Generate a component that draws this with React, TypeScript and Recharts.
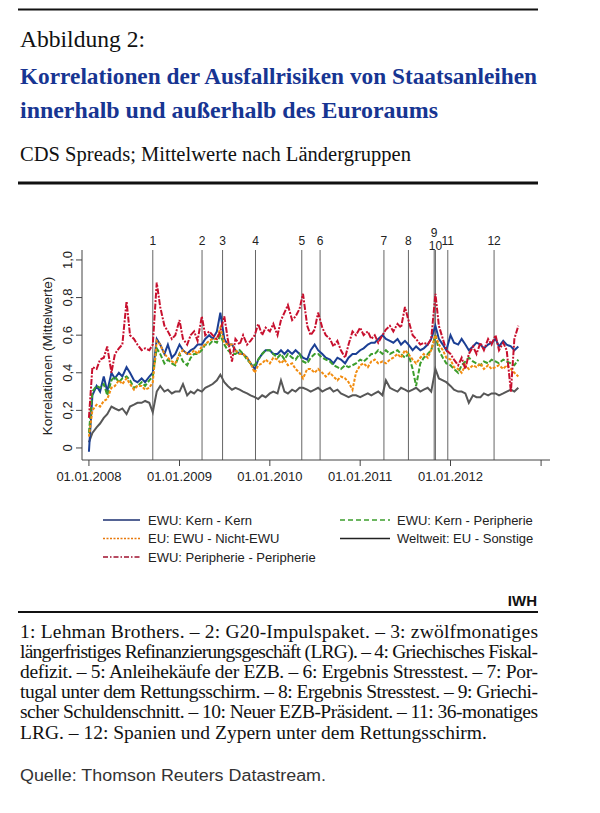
import React from "react";
import { LineChart, Line, XAxis, YAxis, ReferenceLine } from "recharts";

const serif = '"Liberation Serif", "Times New Roman", serif';
const sans = '"Liberation Sans", Arial, sans-serif';

// Beobachtungen: jeweils 1. und 15. des Monats, Jan 2008 – Okt 2012
const N_OBS = 115;
const obsDates: number[] = Array.from({ length: N_OBS }, (_, i) =>
  Date.UTC(2008 + Math.floor(i / 24), Math.floor((i % 24) / 2), i % 2 === 0 ? 1 : 15)
);

// EWU: Kern - Kern
const kernKern = [
  -0.02, 0.28, 0.33, 0.30, 0.38, 0.30, 0.40, 0.37, 0.40, 0.38, 0.43, 0.40, 0.36, 0.35, 0.37, 0.35, 0.38, 0.40, 0.58, 0.55, 0.50, 0.55, 0.48, 0.50,
  0.55, 0.52, 0.50, 0.52, 0.53, 0.55, 0.55, 0.58, 0.60, 0.58, 0.62, 0.72, 0.58, 0.55, 0.55, 0.52, 0.50, 0.50, 0.48, 0.45, 0.42, 0.47, 0.50, 0.52,
  0.52, 0.50, 0.50, 0.52, 0.50, 0.52, 0.50, 0.52, 0.50, 0.48, 0.47, 0.52, 0.55, 0.52, 0.50, 0.48, 0.47, 0.45, 0.48, 0.47, 0.45, 0.48, 0.50, 0.50,
  0.52, 0.53, 0.55, 0.56, 0.56, 0.58, 0.60, 0.58, 0.57, 0.56, 0.58, 0.55, 0.57, 0.55, 0.52, 0.54, 0.52, 0.53, 0.55, 0.58, 0.65, 0.58, 0.55, 0.52,
  0.60, 0.56, 0.55, 0.58, 0.55, 0.52, 0.54, 0.56, 0.55, 0.53, 0.55, 0.56, 0.58, 0.54, 0.57, 0.55, 0.54, 0.52, 0.54,
];

// EWU: Kern - Peripherie
const kernPeri = [
  0.08, 0.30, 0.33, 0.32, 0.34, 0.28, 0.36, 0.38, 0.35, 0.37, 0.38, 0.36, 0.32, 0.33, 0.35, 0.33, 0.36, 0.38, 0.53, 0.50, 0.45, 0.47, 0.45, 0.44,
  0.50, 0.46, 0.44, 0.48, 0.50, 0.50, 0.52, 0.55, 0.55, 0.57, 0.56, 0.60, 0.55, 0.52, 0.50, 0.50, 0.52, 0.50, 0.47, 0.45, 0.44, 0.47, 0.50, 0.52,
  0.52, 0.50, 0.48, 0.50, 0.47, 0.50, 0.48, 0.47, 0.50, 0.46, 0.45, 0.48, 0.50, 0.50, 0.48, 0.47, 0.46, 0.44, 0.43, 0.42, 0.44, 0.43, 0.44, 0.45,
  0.47, 0.46, 0.48, 0.50, 0.50, 0.52, 0.50, 0.52, 0.50, 0.51, 0.52, 0.50, 0.48, 0.50, 0.42, 0.33, 0.45, 0.48, 0.50, 0.52, 0.60, 0.52, 0.48, 0.45,
  0.44, 0.42, 0.40, 0.44, 0.46, 0.48, 0.46, 0.45, 0.44, 0.46, 0.45, 0.47, 0.46, 0.45, 0.47, 0.46, 0.45, 0.44, 0.47,
];

// EU: EWU - Nicht-EWU
const euNichtEwu = [
  0.06, 0.20, 0.23, 0.22, 0.25, 0.26, 0.32, 0.33, 0.36, 0.34, 0.37, 0.34, 0.31, 0.33, 0.33, 0.31, 0.32, 0.35, 0.57, 0.55, 0.50, 0.48, 0.46, 0.45,
  0.50, 0.52, 0.50, 0.50, 0.52, 0.50, 0.54, 0.55, 0.57, 0.58, 0.58, 0.64, 0.56, 0.55, 0.55, 0.52, 0.50, 0.50, 0.48, 0.45, 0.40, 0.44, 0.45, 0.47,
  0.45, 0.48, 0.47, 0.45, 0.47, 0.44, 0.45, 0.42, 0.40, 0.37, 0.42, 0.42, 0.40, 0.42, 0.40, 0.38, 0.40, 0.38, 0.36, 0.38, 0.37, 0.35, 0.31, 0.40,
  0.44, 0.45, 0.43, 0.46, 0.47, 0.45, 0.46, 0.45, 0.47, 0.48, 0.50, 0.48, 0.52, 0.50, 0.47, 0.45, 0.48, 0.50, 0.48, 0.52, 0.60, 0.55, 0.52, 0.48,
  0.47, 0.43, 0.42, 0.40, 0.44, 0.42, 0.44, 0.43, 0.45, 0.42, 0.44, 0.42, 0.43, 0.44, 0.42, 0.44, 0.42, 0.40, 0.38,
];

// EWU: Peripherie - Peripherie
const periPeri = [
  0.16, 0.43, 0.42, 0.47, 0.48, 0.54, 0.40, 0.50, 0.53, 0.55, 0.78, 0.60, 0.58, 0.55, 0.52, 0.53, 0.52, 0.55, 0.88, 0.75, 0.65, 0.62, 0.58, 0.60,
  0.68, 0.58, 0.55, 0.60, 0.62, 0.57, 0.70, 0.60, 0.62, 0.60, 0.58, 0.62, 0.70, 0.58, 0.46, 0.58, 0.55, 0.60, 0.55, 0.57, 0.60, 0.66, 0.60, 0.64,
  0.62, 0.66, 0.60, 0.68, 0.72, 0.76, 0.68, 0.70, 0.74, 0.82, 0.65, 0.60, 0.63, 0.72, 0.64, 0.60, 0.58, 0.54, 0.57, 0.52, 0.48, 0.55, 0.62, 0.60,
  0.64, 0.60, 0.62, 0.58, 0.60, 0.56, 0.60, 0.63, 0.65, 0.62, 0.66, 0.64, 0.75, 0.68, 0.60, 0.58, 0.55, 0.56, 0.55, 0.58, 0.82, 0.65, 0.58, 0.52,
  0.50, 0.47, 0.44, 0.48, 0.42, 0.50, 0.54, 0.50, 0.56, 0.52, 0.58, 0.55, 0.60, 0.52, 0.56, 0.52, 0.30, 0.58, 0.65,
];

// Weltweit: EU - Sonstige
const weltweit = [
  0.03, 0.08, 0.11, 0.13, 0.16, 0.18, 0.22, 0.21, 0.20, 0.21, 0.18, 0.22, 0.23, 0.24, 0.24, 0.25, 0.24, 0.19, 0.30, 0.33, 0.30, 0.31, 0.29, 0.30,
  0.30, 0.34, 0.28, 0.30, 0.29, 0.31, 0.30, 0.32, 0.33, 0.34, 0.36, 0.39, 0.35, 0.33, 0.31, 0.32, 0.31, 0.30, 0.29, 0.28, 0.27, 0.26, 0.28, 0.27,
  0.29, 0.30, 0.29, 0.36, 0.30, 0.29, 0.31, 0.30, 0.32, 0.32, 0.31, 0.30, 0.31, 0.32, 0.30, 0.31, 0.32, 0.30, 0.31, 0.29, 0.28, 0.27, 0.28, 0.28,
  0.27, 0.28, 0.29, 0.28, 0.29, 0.30, 0.28, 0.36, 0.32, 0.31, 0.30, 0.32, 0.31, 0.30, 0.31, 0.32, 0.30, 0.31, 0.32, 0.30, 0.42, 0.37, 0.36, 0.35,
  0.33, 0.31, 0.30, 0.30, 0.29, 0.24, 0.28, 0.27, 0.27, 0.29, 0.28, 0.29, 0.29, 0.28, 0.29, 0.30, 0.31, 0.30, 0.32,
];

const xYears = [2008, 2009, 2010, 2011, 2012, 2013];
const xTickLabels = ["01.01.2008", "01.01.2009", "01.01.2010", "01.01.2011", "01.01.2012", ""];
const yTicks = [0, 0.2, 0.4, 0.6, 0.8, 1.0];
const yTickLabels = ["0", "0,2", "0,4", "0,6", "0,8", "1,0"];

const eventNumbers = ["1", "2", "3", "4", "5", "6", "7", "8", "9", "10", "11", "12"];
const eventDates = [
  "2008-09-15", "2009-04-02", "2009-06-24", "2009-11-04", "2010-05-10", "2010-07-23",
  "2011-04-07", "2011-07-15", "2011-10-27", "2011-11-01", "2011-12-21", "2012-06-25",
];

const footnoteLines = [
  "1: Lehman Brothers. – 2: G20-Impulspaket. – 3: zwölfmonatiges",
  "längerfristiges Refinanzierungsgeschäft (LRG). – 4: Griechisches Fiskal-",
  "defizit. – 5: Anleihekäufe der EZB. – 6: Ergebnis Stresstest. – 7: Por-",
  "tugal unter dem Rettungsschirm. – 8: Ergebnis Stresstest. – 9: Griechi-",
  "scher Schuldenschnitt. – 10: Neuer EZB-Präsident. – 11: 36-monatiges",
  "LRG. – 12: Spanien und Zypern unter dem Rettungsschirm.",
];

const xMin = Date.UTC(2007, 11, 4);
const xMax = Date.UTC(2013, 1, 6);

const XTick = ({ x, y, payload }: any) => {
  const idx = xYears.indexOf(new Date(payload.value).getUTCFullYear());
  return (
    <text x={x} y={y} dy={13} textAnchor="middle" fontSize={13} fill="#222" fontFamily={sans}>
      {xTickLabels[idx]}
    </text>
  );
};

const YTick = ({ x, y, payload }: any) => {
  const idx = yTicks.findIndex((v) => Math.abs(v - payload.value) < 1e-6);
  return (
    <text x={x} y={y} transform={`rotate(-90 ${x} ${y})`} textAnchor="middle" fontSize={13} fill="#222" fontFamily={sans}>
      {yTickLabels[idx]}
    </text>
  );
};

const legendItems = [
  { label: "EWU: Kern - Kern", color: "#1b2f70", dash: undefined, x1: 103, x2: 140, y: 520 },
  { label: "EU: EWU - Nicht-EWU", color: "#e8780a", dash: "2 1.5", x1: 103, x2: 140, y: 538.5 },
  { label: "EWU: Peripherie - Peripherie", color: "#a0102e", dash: "5 2 1.5 2", x1: 103, x2: 140, y: 557 },
  { label: "EWU: Kern - Peripherie", color: "#3c9e2c", dash: "5 3", x1: 340, x2: 390, y: 520 },
  { label: "Weltweit: EU - Sonstige", color: "#222", dash: undefined, x1: 340, x2: 390, y: 538.5 },
];

export default function App() {
  const data = obsDates.map((t, i) => ({
    t,
    kk: kernKern[i],
    kp: kernPeri[i],
    en: euNichtEwu[i],
    pp: periPeri[i],
    ww: weltweit[i],
  }));

  return (
    <div style={{ position: "relative", width: 600, height: 813, background: "#fff", overflow: "hidden" }}>
      <style>{`body{margin:0}`}</style>

      <div style={{ position: "absolute", left: 0, top: 215 }}>
        <LineChart width={600} height={285} data={data} margin={{ top: 35, right: 50, bottom: 10, left: 0 }}>
          <XAxis
            dataKey="t"
            type="number"
            domain={[xMin, xMax]}
            allowDataOverflow
            ticks={xYears.map((y) => Date.UTC(y, 0, 1))}
            interval={0}
            tick={<XTick />}
            tickSize={6}
            height={30}
            stroke="#444"
          />
          <YAxis
            type="number"
            domain={[-0.064, 1.053]}
            allowDataOverflow
            ticks={yTicks}
            interval={0}
            tick={<YTick />}
            width={82}
            tickSize={6}
            tickMargin={4}
            stroke="#444"
          />
          {eventDates.map((d, i) => (
            <ReferenceLine
              key={d}
              x={Date.parse(d)}
              stroke="#666"
              strokeWidth={1}
              label={{
                value: eventNumbers[i],
                position: "top",
                offset: eventNumbers[i] === "9" ? 13 : eventNumbers[i] === "10" ? 0 : 5,
                fill: "#222",
                fontSize: 12,
                fontFamily: sans,
              }}
            />
          ))}
          <Line dataKey="ww" stroke="#575757" strokeWidth={2} dot={false} isAnimationActive={false} />
          <Line dataKey="kk" stroke="#1b3f94" strokeWidth={2} dot={false} isAnimationActive={false} />
          <Line dataKey="kp" stroke="#3c9e2c" strokeWidth={2} strokeDasharray="5 2" dot={false} isAnimationActive={false} />
          <Line dataKey="en" stroke="#f28c0f" strokeWidth={2} strokeDasharray="3 1.5" dot={false} isAnimationActive={false} />
          <Line dataKey="pp" stroke="#c8102e" strokeWidth={2} strokeDasharray="6 1.5 2 1.5" dot={false} isAnimationActive={false} />
        </LineChart>
      </div>

      <svg width={600} height={813} style={{ position: "absolute", left: 0, top: 0, pointerEvents: "none" }}>
        <line x1={18} x2={538} y1={9.5} y2={9.5} stroke="#111" strokeWidth={2} />
        <text x={20} y={47} fontFamily={serif} fontSize={23.5} fill="#111" textLength={125} lengthAdjust="spacingAndGlyphs">
          Abbildung 2:
        </text>
        <text x={20} y={84} fontFamily={serif} fontSize={23.5} fontWeight="bold" fill="#173592" textLength={517} lengthAdjust="spacingAndGlyphs">
          Korrelationen der Ausfallrisiken von Staatsanleihen
        </text>
        <text x={20} y={118} fontFamily={serif} fontSize={23.5} fontWeight="bold" fill="#173592" textLength={418} lengthAdjust="spacingAndGlyphs">
          innerhalb und außerhalb des Euroraums
        </text>
        <text x={20} y={161} fontFamily={serif} fontSize={20.5} fill="#111" textLength={391} lengthAdjust="spacingAndGlyphs">
          CDS Spreads; Mittelwerte nach Ländergruppen
        </text>
        <line x1={18} x2={538} y1={183} y2={183} stroke="#111" strokeWidth={3} />

        <text x={47} y={356} transform="rotate(-90 47 356)" textAnchor="middle" dominantBaseline="central" fontFamily={sans} fontSize={13.5} fill="#222">
          Korrelationen (Mittelwerte)
        </text>

        {legendItems.map((it) => (
          <g key={it.label}>
            <line x1={it.x1} x2={it.x2} y1={it.y} y2={it.y} stroke={it.color} strokeWidth={1.5} strokeDasharray={it.dash} />
            <text x={it.x2 + (it.x1 < 200 ? 8 : 7)} y={it.y + 4.7} fontFamily={sans} fontSize={13} fill="#222">
              {it.label}
            </text>
          </g>
        ))}

        <text x={537} y={606} textAnchor="end" fontFamily={sans} fontSize={15} fontWeight="bold" fill="#111">
          IWH
        </text>
        <line x1={18} x2={538} y1={612} y2={612} stroke="#111" strokeWidth={2} />

        {footnoteLines.map((line, i) => (
          <text
            key={i}
            x={20}
            y={638 + i * 20.1}
            fontFamily={serif}
            fontSize={19.5}
            fill="#111"
            textLength={i < footnoteLines.length - 1 ? 518 : undefined}
            lengthAdjust="spacing"
          >
            {line}
          </text>
        ))}

        <text x={20} y={781} fontFamily={sans} fontSize={16} fill="#333" textLength={306} lengthAdjust="spacingAndGlyphs">
          Quelle: Thomson Reuters Datastream.
        </text>
      </svg>
    </div>
  );
}
